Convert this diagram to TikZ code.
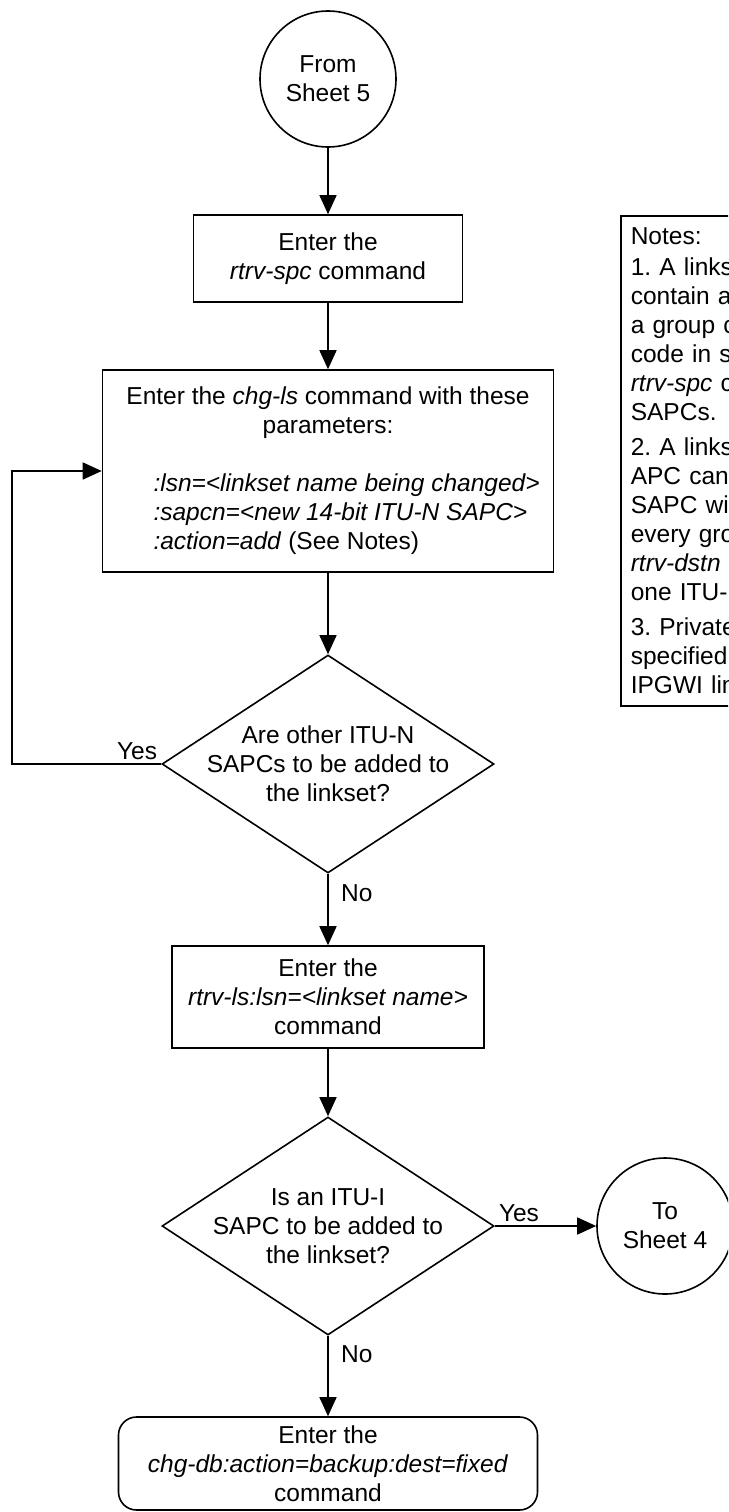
\documentclass[tikz,border=0pt]{standalone}
\usepackage{fontspec}
\setmainfont{Liberation Sans}
\usetikzlibrary{arrows.meta,shapes.geometric}
\frenchspacing

\begin{document}
\begin{tikzpicture}[x=1pt,y=-1pt,
  every node/.style={font=\fontsize{24.5}{29}\selectfont},
  box/.style={draw,line width=1.6pt,align=center,inner sep=0pt},
  decision/.style={draw,line width=1.6pt,diamond,minimum width=332pt,minimum height=218pt,inner sep=0pt},
  sheet/.style={draw,line width=1.6pt,circle,minimum size=136pt,align=center,inner sep=0pt},
  flow/.style={line width=1.6pt,-{Triangle[length=19pt,width=17pt]}}]
\useasboundingbox (0,0) rectangle (728,1512);
\clip (0,0) rectangle (728,1512);

\node (from5) [sheet] at (328,79) {From\\Sheet 5};
\node (spc) [box,minimum width=269pt,minimum height=87pt] at (328,258.5) {Enter the\\\textit{rtrv-spc} command};
\node (chgls) [box,minimum width=451pt,minimum height=202pt] at (328,471)
  {Enter the \textit{chg-ls} command with these\\parameters:\\[29pt]
   \makebox[349pt][l]{\textit{:lsn=<linkset name being changed>}}\\
   \makebox[349pt][l]{\textit{:sapcn=<new 14-bit ITU-N SAPC>}}\\
   \makebox[349pt][l]{\textit{:action=add} (See Notes)}};
\node (more) [decision,label={[align=center]center:Are other ITU-N\\SAPCs to be added to\\the linkset?}] at (328,764) {};
\node (rtrvls) [box,minimum width=312pt,minimum height=102pt] at (328,997) {Enter the\\\textit{rtrv-ls:lsn=<linkset name>}\\command};
\node (itui) [decision,label={[align=center]center:Is an ITU-I\\SAPC to be added to\\the linkset?}] at (328,1226) {};
\node (to4) [sheet] at (665,1226) {To\\Sheet 4};
\node (chgdb) [box,rounded corners=18pt,minimum width=419pt,minimum height=93pt] at (328,1463.5) {Enter the\\\textit{chg-db:action=backup:dest=fixed}\\command};

\node (notes) [draw,line width=1.6pt,anchor=north west,align=left,inner xsep=10pt,inner ysep=12pt,text width=400pt] at (620,215)
  {Notes:\\[2pt]
   1. A linkset can\\
   contain a maximum of one\\
   a group code if there is a group\\
   code in secondary point codes\\
   \textit{rtrv-spc} command output, up to 7\\
   SAPCs.\\[6pt]
   2. A linkset with an ITU-N\\
   APC can contain one ITU-N\\
   SAPC with a group code for\\
   every group code shown in the\\
   \textit{rtrv-dstn} output, but only\\
   one ITU-N SAPC per group code.\\[6pt]
   3. Private point codes cannot be\\
   specified as SAPCs for an\\
   IPGWI linkset.};

\node (yes1) [anchor=south east,inner sep=4pt] at (more.west) {Yes};
\node (no1) [anchor=north west,inner sep=0pt] at ([xshift=13pt,yshift=-11pt]more.south) {No};
\node (yes2) [anchor=south west,inner sep=4pt] at (itui.east) {Yes};
\node (no2) [anchor=north west,inner sep=0pt] at ([xshift=13pt,yshift=-10pt]itui.south) {No};

\draw[flow] (from5) -- (spc);
\draw[flow] (spc) -- (chgls);
\draw[flow] (chgls) -- (more);
\draw[flow] (more.west) -- ++(-149,0) |- (chgls.west);
\draw[flow] (more) -- (rtrvls);
\draw[flow] (rtrvls) -- (itui);
\draw[flow] (itui) -- (to4);
\draw[flow] (itui) -- (chgdb);
\end{tikzpicture}
\end{document}
